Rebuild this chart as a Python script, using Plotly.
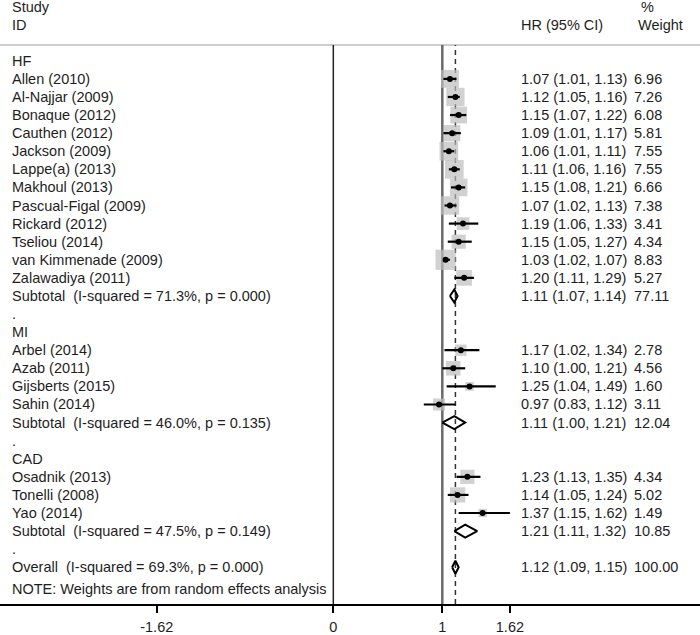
import plotly.graph_objects as go

# ---------------- data ----------------
hf_names = ["Allen (2010)", "Al-Najjar (2009)", "Bonaque (2012)", "Cauthen (2012)",
            "Jackson (2009)", "Lappe(a) (2013)", "Makhoul (2013)", "Pascual-Figal (2009)",
            "Rickard (2012)", "Tseliou (2014)", "van Kimmenade (2009)", "Zalawadiya (2011)"]
hf_hr = [1.07, 1.12, 1.15, 1.09, 1.06, 1.11, 1.15, 1.07, 1.19, 1.15, 1.03, 1.20]
hf_lo = [1.01, 1.05, 1.07, 1.01, 1.01, 1.06, 1.08, 1.02, 1.06, 1.05, 1.02, 1.11]
hf_hi = [1.13, 1.16, 1.22, 1.17, 1.11, 1.16, 1.21, 1.13, 1.33, 1.27, 1.07, 1.29]
hf_w = [6.96, 7.26, 6.08, 5.81, 7.55, 7.55, 6.66, 7.38, 3.41, 4.34, 8.83, 5.27]
hf_sub = (1.11, 1.07, 1.14, 77.11, "71.3%", "0.000")

mi_names = ["Arbel (2014)", "Azab (2011)", "Gijsberts (2015)", "Sahin (2014)"]
mi_hr = [1.17, 1.10, 1.25, 0.97]
mi_lo = [1.02, 1.00, 1.04, 0.83]
mi_hi = [1.34, 1.21, 1.49, 1.12]
mi_w = [2.78, 4.56, 1.60, 3.11]
mi_sub = (1.11, 1.00, 1.21, 12.04, "46.0%", "0.135")

cad_names = ["Osadnik (2013)", "Tonelli (2008)", "Yao (2014)"]
cad_hr = [1.23, 1.14, 1.37]
cad_lo = [1.13, 1.05, 1.15]
cad_hi = [1.35, 1.24, 1.62]
cad_w = [4.34, 5.02, 1.49]
cad_sub = (1.21, 1.11, 1.32, 10.85, "47.5%", "0.149")

overall = (1.12, 1.09, 1.15, 100.00, "69.3%", "0.000")
null_value = 1
tick_vals = [-1.62, 0, 1, 1.62]
tick_text = ["-1.62", "0", "1", "1.62"]

groups = [("HF", hf_names, hf_hr, hf_lo, hf_hi, hf_w, hf_sub),
          ("MI", mi_names, mi_hr, mi_lo, mi_hi, mi_w, mi_sub),
          ("CAD", cad_names, cad_hr, cad_lo, cad_hi, cad_w, cad_sub)]

# ---------------- styles ----------------
FONT = "Liberation Sans, Arial, sans-serif"
FS = 14.5
TXT = "#1e1e1e"
BOX = "#bdbdbd"
X_LABEL = 9.5 / 700
X_HR = 519 / 700
X_W = 632 / 700
DIA_H = 0.36
NB = "\u00a0"

# ---------------- build rows ----------------
rows = []
r = 0
for gname, names, hr, lo, hi, w, sub in groups:
    rows.append((r, "head", gname)); r += 1
    for i in range(len(names)):
        rows.append((r, "study", (names[i], hr[i], lo[i], hi[i], w[i]))); r += 1
    rows.append((r, "sub", ("Subtotal", sub))); r += 1
    rows.append((r, "dot", ".")); r += 1
rows.append((r, "overall", ("Overall", overall))); r += 1
note_row = r

fig = go.Figure()
annotations = []

def text(x, y, s, anchor="left"):
    annotations.append(dict(x=x, y=y, xref="paper", yref="y", text=s, showarrow=False,
                            xanchor=anchor, yanchor="middle",
                            font=dict(family=FONT, size=FS, color=TXT)))

box_x, box_y, box_s = [], [], []
ci_x, ci_y = [], []
pt_x, pt_y = [], []
dia_x, dia_y = [], []

for row, kind, p in rows:
    if kind == "head":
        text(X_LABEL, row, p)
    elif kind == "dot":
        text(X_LABEL, row, ".")
    elif kind == "study":
        name, e, lo, hi, w = p
        text(X_LABEL, row, name)
        text(X_HR, row, f"{e:.2f} ({lo:.2f}, {hi:.2f})")
        text(X_W, row, f"{w:.2f}")
        box_x.append(e); box_y.append(row); box_s.append(6.8 * w ** 0.5)
        ci_x += [lo, hi, None]; ci_y += [row, row, None]
        pt_x.append(e); pt_y.append(row)
    else:
        label, (e, lo, hi, w, i2, pv) = p
        text(X_LABEL, row, f"{label}{NB} (I-squared = {i2}, p = {pv})")
        text(X_HR, row, f"{e:.2f} ({lo:.2f}, {hi:.2f})")
        text(X_W, row, f"{w:.2f}")
        dia_x += [lo, e, hi, e, lo, None]
        dia_y += [row, row - DIA_H, row, row + DIA_H, row, None]

text(X_LABEL, note_row + 0.2, "NOTE: Weights are from random effects analysis")
text(X_LABEL, -3, "Study")
text(X_LABEL, -2, "ID")
text(X_HR, -2, "HR (95% CI)")
text(X_W + 0.01, -3, "%")
text(X_W + 0.006, -2, "Weight")

fig.add_trace(go.Scatter(x=box_x, y=box_y, mode="markers",
                         marker=dict(symbol="square", size=box_s, color=BOX, line=dict(width=0)),
                         hoverinfo="skip", showlegend=False))
fig.add_trace(go.Scatter(x=ci_x, y=ci_y, mode="lines", line=dict(color="black", width=2.2),
                         hoverinfo="skip", showlegend=False))
fig.add_trace(go.Scatter(x=pt_x, y=pt_y, mode="markers",
                         marker=dict(symbol="circle", size=6, color="black"),
                         hoverinfo="skip", showlegend=False))
fig.add_trace(go.Scatter(x=dia_x, y=dia_y, mode="lines", line=dict(color="black", width=2),
                         hoverinfo="skip", showlegend=False))

TOP_ROW = -0.88
Y_RANGE = [30.03, -3.361]
top_frac = (Y_RANGE[0] - TOP_ROW) / (Y_RANGE[0] - Y_RANGE[1])
shapes = [
    dict(type="line", xref="paper", yref="y", x0=0, x1=1, y0=TOP_ROW, y1=TOP_ROW,
         line=dict(color="#bcbcbc", width=1.5), layer="below"),
    dict(type="line", xref="x", yref="paper", x0=0, x1=0, y0=0, y1=top_frac,
         line=dict(color="#222222", width=1.5), layer="below"),
    dict(type="line", xref="x", yref="paper", x0=null_value, x1=null_value, y0=0, y1=top_frac,
         line=dict(color="#6a6a6a", width=2.5), layer="below"),
    dict(type="line", xref="x", yref="paper", x0=overall[0], x1=overall[0], y0=0, y1=top_frac,
         line=dict(color="#333333", width=1.5, dash="5px,4px"), layer="below"),
]

fig.update_layout(
    width=700, height=635,
    margin=dict(l=0, r=0, t=0, b=29),
    paper_bgcolor="white", plot_bgcolor="white",
    annotations=annotations, shapes=shapes,
    xaxis=dict(range=[-3.058, 3.364], tickvals=tick_vals, ticktext=tick_text,
               showgrid=False, zeroline=False, showline=True, linecolor="black", linewidth=2,
               ticks="outside", ticklen=7, tickwidth=2, tickcolor="black",
               ticklabelstandoff=2,
               tickfont=dict(family=FONT, size=FS, color=TXT)),
    yaxis=dict(range=Y_RANGE, visible=False, showgrid=False, zeroline=False),
    showlegend=False,
)

fig.write_html("out.html", config={"displayModeBar": False},
               post_script="document.body.style.margin='0px';document.body.style.overflow='hidden';")
